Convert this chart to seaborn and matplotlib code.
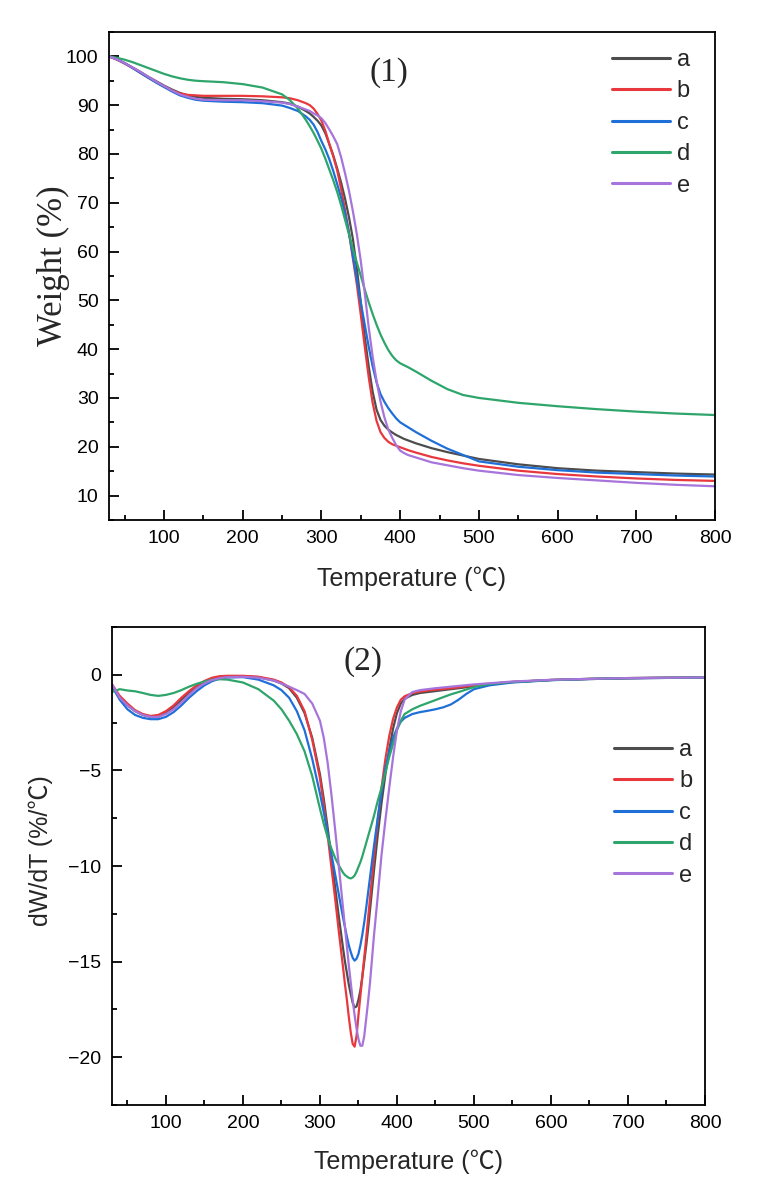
import matplotlib
matplotlib.use("Agg")
import matplotlib.pyplot as plt
from matplotlib.ticker import MultipleLocator
import seaborn as sns
import pandas as pd

# ---- data ----
samples = ["a", "b", "c", "d", "e"]
colors = ["#4d4d4d", "#e8383d", "#1f6fd8", "#2ea56b", "#a774db"]

# (1) TGA curves: weight (%) vs temperature
temp_tga = [30, 40, 50, 60, 70, 80, 90, 100, 110, 120, 130, 140, 150, 175, 200, 225, 250, 260, 270,
            280, 285, 290, 295, 300, 305, 310, 315, 320, 325, 330, 335, 340, 345, 350, 355, 360,
            365, 370, 375, 380, 385, 390, 395, 400, 405, 410,
            420, 440, 460, 480, 500, 550, 600, 650, 700, 750, 800]
weight_a = [100, 99.4, 98.6, 97.7, 96.8, 95.8, 94.9, 94.0, 93.2, 92.5, 92.0, 91.7, 91.5, 91.3, 91.2, 91.0, 90.6, 90.3, 89.7,
            88.8, 88.3, 87.6, 86.8, 85.8, 84.2, 82.0, 79.7, 77.0, 74.1, 70.8, 67.0, 62.5, 56.5, 49.5, 42.5, 36.5,
            31.3, 27.6, 25.5, 24.3, 23.5, 22.9, 22.4, 22.0, 21.6, 21.3,
            20.7, 19.7, 18.9, 18.2, 17.5, 16.4, 15.6, 15.1, 14.8, 14.5, 14.3]
weight_b = [100, 99.3, 98.5, 97.6, 96.6, 95.6, 94.7, 93.8, 93.0, 92.4, 92.1, 92.0, 91.9, 91.9, 91.9, 91.8, 91.6, 91.4, 91.0,
            90.4, 90.0, 89.3, 88.2, 86.8, 84.7, 82.0, 79.5, 76.6, 72.8, 68.5, 63.8, 58.5, 53.2, 47.0, 40.5, 34.3,
            29.0, 25.3, 23.0, 21.8, 21.0, 20.5, 20.2, 19.9, 19.6, 19.3,
            18.8, 17.9, 17.2, 16.6, 16.1, 15.1, 14.4, 13.9, 13.5, 13.2, 13.0]
weight_c = [100, 99.4, 98.6, 97.6, 96.6, 95.6, 94.6, 93.7, 92.8, 92.0, 91.5, 91.1, 90.9, 90.7, 90.6, 90.4, 89.9, 89.4, 88.8,
            87.7, 87.0, 86.0, 84.5, 82.6, 80.9, 78.9, 76.5, 73.8, 71.0, 67.8, 63.8, 59.0, 54.2, 49.5, 45.0, 40.5,
            36.5, 33.2, 30.8, 29.2, 27.9, 26.8, 25.8, 25.0, 24.5, 24.0,
            23.0, 21.2, 19.6, 18.3, 17.0, 15.9, 15.2, 14.7, 14.4, 14.1, 13.9]
weight_d = [100, 99.7, 99.3, 98.8, 98.2, 97.6, 97.0, 96.4, 95.9, 95.5, 95.2, 95.0, 94.9, 94.7, 94.3, 93.6, 92.2, 91.0, 89.3,
            87.0, 85.7, 84.3, 82.7, 81.0, 79.0, 76.8, 74.6, 72.2, 69.5, 66.5, 63.5, 60.5, 57.7, 55.0, 52.2, 49.6,
            47.2, 45.0, 43.0, 41.3, 39.8, 38.6, 37.7, 37.1, 36.7, 36.3,
            35.4, 33.5, 31.8, 30.6, 30.0, 29.0, 28.3, 27.7, 27.2, 26.8, 26.5]
weight_e = [100, 99.4, 98.6, 97.7, 96.8, 95.8, 94.8, 93.9, 93.0, 92.2, 91.7, 91.3, 91.1, 91.0, 91.0, 90.8, 90.5, 90.2, 89.7,
            89.1, 88.8, 88.3, 87.9, 87.3, 86.3, 85.0, 83.6, 82.0, 79.3, 76.0, 72.4, 68.2, 63.5, 58.0, 51.5, 44.5,
            38.5, 33.5, 29.3, 26.0, 23.5, 21.8, 20.3, 19.2, 18.7, 18.3,
            17.8, 16.8, 16.2, 15.6, 15.1, 14.2, 13.6, 13.1, 12.6, 12.2, 11.9]

# (2) DTG curves: dW/dT vs temperature
temp_dtg = [30, 40, 50, 60, 70, 80, 90, 100, 110, 120, 130, 140, 150, 160, 170, 180, 200, 220,
            240, 250, 260, 270, 280, 290, 300, 305, 310, 315, 320, 325,
            330, 332.5, 335, 337.5, 340, 342.5, 345, 347.5, 350, 352.5, 355, 357.5, 360, 362.5, 365,
            370, 375, 380, 385, 390, 395, 400, 405, 410, 420, 430, 440,
            450, 460, 470, 480, 490, 500, 520, 550, 600, 650, 700, 750, 800]
dtg_a = [-0.6, -1.2, -1.6, -1.9, -2.1, -2.2, -2.2, -2.0, -1.7, -1.3, -0.95, -0.65, -0.4, -0.22, -0.12, -0.08, -0.07, -0.12,
         -0.3, -0.45, -0.7, -1.2, -2.0, -3.3, -5.2, -6.5, -8.0, -9.6, -11.2, -12.8,
         -14.3, -15.0, -15.6, -16.2, -16.7, -17.15, -17.4, -17.35, -17.0, -16.5, -15.8, -15.0, -14.2, -13.3, -12.3,
         -10.3, -8.4, -6.7, -5.2, -3.9, -2.8, -2.0, -1.5, -1.25, -1.05, -0.95, -0.9,
         -0.85, -0.8, -0.75, -0.7, -0.65, -0.58, -0.5, -0.38, -0.27, -0.22, -0.18, -0.16, -0.15]
dtg_b = [-0.5, -1.1, -1.5, -1.85, -2.05, -2.15, -2.1, -1.9, -1.6, -1.2, -0.85, -0.55, -0.32, -0.15, -0.07, -0.05, -0.05, -0.1,
         -0.25, -0.4, -0.65, -1.1, -1.9, -3.4, -5.4, -6.8, -8.4, -10.1, -11.8, -13.6,
         -15.3, -16.2, -17.0, -17.9, -18.7, -19.3, -19.45, -18.9, -17.8, -16.8, -15.8, -14.8, -13.8, -12.75, -11.7,
         -9.6, -7.6, -5.9, -4.4, -3.2, -2.3, -1.7, -1.3, -1.12, -0.95, -0.88, -0.82,
         -0.78, -0.74, -0.7, -0.65, -0.6, -0.55, -0.47, -0.37, -0.27, -0.21, -0.17, -0.15, -0.14]
dtg_c = [-0.6, -1.3, -1.8, -2.1, -2.25, -2.32, -2.32, -2.2, -1.95, -1.6, -1.2, -0.85, -0.55, -0.33, -0.2, -0.14, -0.12, -0.25,
         -0.55, -0.8, -1.2, -1.9, -2.9, -4.4, -6.2, -7.2, -8.3, -9.4, -10.5, -11.6,
         -12.7, -13.2, -13.7, -14.15, -14.5, -14.8, -14.95, -14.85, -14.6, -14.15, -13.6, -12.95, -12.2, -11.4, -10.6,
         -9.0, -7.5, -6.1, -4.9, -4.0, -3.3, -2.8, -2.45, -2.25, -2.05, -1.95, -1.88,
         -1.8, -1.7, -1.55, -1.3, -1.0, -0.75, -0.55, -0.4, -0.28, -0.22, -0.18, -0.16, -0.15]
dtg_d = [-0.9, -0.75, -0.82, -0.86, -0.95, -1.05, -1.1, -1.05, -0.95, -0.8, -0.62, -0.47, -0.35, -0.26, -0.23, -0.25, -0.4, -0.75,
         -1.35, -1.8, -2.4, -3.1, -4.0, -5.3, -7.0, -7.8, -8.5, -9.1, -9.6, -10.0,
         -10.35, -10.47, -10.55, -10.62, -10.65, -10.6, -10.5, -10.3, -10.05, -9.8, -9.5, -9.15, -8.8, -8.45, -8.1,
         -7.4, -6.6, -5.9, -5.1, -4.3, -3.6, -2.9, -2.4, -2.05, -1.8, -1.62, -1.47,
         -1.32, -1.17, -1.02, -0.9, -0.77, -0.64, -0.48, -0.37, -0.27, -0.21, -0.17, -0.15, -0.14]
dtg_e = [-0.5, -1.2, -1.6, -1.9, -2.1, -2.2, -2.2, -2.05, -1.8, -1.45, -1.05, -0.7, -0.45, -0.27, -0.17, -0.12, -0.1, -0.15,
         -0.3, -0.45, -0.62, -0.8, -1.0, -1.5, -2.4, -3.3, -4.6, -6.3, -8.2, -10.2,
         -12.2, -13.2, -14.2, -15.2, -16.1, -17.0, -17.8, -18.5, -19.05, -19.4, -19.4, -18.9, -18.0, -17.1, -16.1,
         -13.7, -11.6, -9.4, -7.6, -5.9, -4.3, -2.9, -1.9, -1.3, -0.9, -0.8, -0.75,
         -0.7, -0.66, -0.62, -0.58, -0.54, -0.5, -0.44, -0.35, -0.26, -0.21, -0.17, -0.15, -0.14]

weights = [weight_a, weight_b, weight_c, weight_d, weight_e]
dtgs = [dtg_a, dtg_b, dtg_c, dtg_d, dtg_e]

tga = pd.concat([pd.DataFrame({"T": temp_tga, "W": w, "sample": s})
                 for s, w in zip(samples, weights)], ignore_index=True)
dtg = pd.concat([pd.DataFrame({"T": temp_dtg, "D": d, "sample": s})
                 for s, d in zip(samples, dtgs)], ignore_index=True)

# ---- style ----
sns.set_style("ticks")
plt.rcParams["font.family"] = ["Liberation Sans", "Noto Sans CJK SC", "DejaVu Sans"]
plt.rcParams["axes.linewidth"] = 1.3
plt.rcParams["axes.edgecolor"] = "black"

label_font = ["Liberation Sans", "Noto Sans CJK SC"]
palette = dict(zip(samples, colors))

fig = plt.figure(figsize=(7.62, 11.86), dpi=100)
ax1 = fig.add_axes([0.1430, 0.5616, 0.7953, 0.4115])
ax2 = fig.add_axes([0.1470, 0.0683, 0.7782, 0.4030])


def style_axis(ax):
    ax.set_xlim(30, 800)
    ax.xaxis.set_major_locator(MultipleLocator(100))
    ax.xaxis.set_minor_locator(MultipleLocator(50))
    ax.tick_params(which="both", direction="in", top=False, right=False,
                   width=1.3, colors="black", labelsize=14)
    ax.tick_params(which="major", length=7, pad=7.5)
    ax.tick_params(which="minor", length=3.5)
    for sp in ax.spines.values():
        sp.set_visible(True)
        sp.set_color("black")
        sp.set_linewidth(1.3)


def add_legend(ax, anchor):
    handles, labels = ax.get_legend_handles_labels()
    leg = ax.legend(handles, labels, loc="upper left", bbox_to_anchor=anchor,
                    frameon=False, fontsize=17, handlelength=2.45,
                    handletextpad=0.3, labelspacing=0.4, borderpad=0,
                    borderaxespad=0)
    for line in leg.get_lines():
        line.set_linewidth(2.2)


# panel (1)
sns.lineplot(data=tga, x="T", y="W", hue="sample", palette=palette,
             linewidth=1.6, errorbar=None, ax=ax1)
ax1.set_ylim(5, 105)
ax1.yaxis.set_major_locator(MultipleLocator(10))
ax1.yaxis.set_minor_locator(MultipleLocator(5))
style_axis(ax1)
ax1.set_xlabel("Temperature (℃)", fontsize=18, family=label_font, labelpad=14)
ax1.set_ylabel("Weight (%)", fontsize=25, family="Liberation Serif")
ax1.yaxis.set_label_coords(-0.064, 0.52)
ax1.text(386, 96.7, "(1)", fontsize=24, family="Liberation Serif",
         ha="center", va="center")
add_legend(ax1, (0.830, 0.965))

# panel (2)
sns.lineplot(data=dtg, x="T", y="D", hue="sample", palette=palette,
             linewidth=1.6, errorbar=None, ax=ax2)
ax2.set_ylim(-22.5, 2.5)
ax2.yaxis.set_major_locator(MultipleLocator(5))
ax2.yaxis.set_minor_locator(MultipleLocator(2.5))
style_axis(ax2)
ax2.set_xlabel("Temperature (℃)", fontsize=18, family=label_font, labelpad=12.5)
ax2.set_ylabel("dW/dT (%/℃)", fontsize=18, family=label_font)
ax2.yaxis.set_label_coords(-0.1, 0.533)
ax2.text(356, 0.7, "(2)", fontsize=24, family="Liberation Serif",
         ha="center", va="center")
add_legend(ax2, (0.847, 0.766))

fig.savefig("out.png", dpi=100)
